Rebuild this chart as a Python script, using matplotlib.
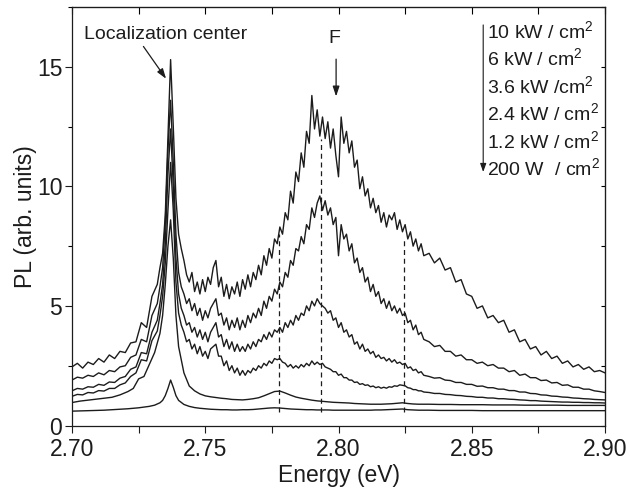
import matplotlib
matplotlib.use("Agg")
import matplotlib.pyplot as plt
from matplotlib.ticker import MultipleLocator

plt.rcParams['font.family'] = ['Liberation Sans', 'DejaVu Sans']
plt.rcParams['mathtext.fontset'] = 'custom'
plt.rcParams['mathtext.rm'] = 'Liberation Sans'
plt.rcParams['mathtext.it'] = 'Liberation Sans'

# ---------------- data ----------------
# energy grid used by the four noisy high-power spectra
energy_noisy = [2.700, 2.702, 2.704, 2.706, 2.708, 2.710, 2.712, 2.714, 2.716, 2.718,
                2.720, 2.722, 2.724, 2.726, 2.728, 2.730, 2.732,
                2.733, 2.734, 2.735, 2.736, 2.737, 2.738, 2.739, 2.740, 2.741,
                2.742, 2.743, 2.744, 2.745, 2.746, 2.747, 2.748, 2.749, 2.750, 2.751,
                2.752, 2.753, 2.754, 2.755, 2.756, 2.757, 2.758, 2.759, 2.760, 2.761,
                2.762, 2.763, 2.764, 2.765, 2.766, 2.767, 2.768, 2.769, 2.770, 2.771,
                2.772, 2.773, 2.774, 2.775, 2.776, 2.777, 2.778, 2.779, 2.780, 2.781,
                2.782, 2.783, 2.784, 2.785, 2.786, 2.787, 2.788, 2.789, 2.790, 2.791,
                2.792, 2.793, 2.794, 2.795, 2.796, 2.797, 2.798, 2.799, 2.800, 2.801,
                2.802, 2.803, 2.804, 2.805, 2.806, 2.807, 2.808, 2.809, 2.810, 2.811,
                2.812, 2.813, 2.814, 2.815, 2.816, 2.817, 2.818, 2.819, 2.820, 2.821,
                2.822, 2.823, 2.824, 2.825, 2.826, 2.827, 2.828, 2.829, 2.830, 2.831,
                2.832,
                2.834, 2.836, 2.838, 2.840, 2.842, 2.844, 2.846, 2.848, 2.850, 2.852,
                2.854, 2.856, 2.858, 2.860, 2.862, 2.864, 2.866, 2.868, 2.870, 2.872,
                2.874, 2.876, 2.878, 2.880, 2.882, 2.884, 2.886, 2.888, 2.890, 2.892,
                2.894, 2.896, 2.898, 2.900]

pl_10kW = [2.45, 2.60, 2.40, 2.65, 2.55, 2.80, 2.65, 2.95, 2.80, 3.10,
           3.05, 3.45, 3.50, 4.30, 4.10, 5.40, 5.90,
           6.6, 7.2, 8.8, 12.0, 15.3, 12.5, 9.5, 8.0, 7.4,
           6.9, 6.3, 6.0, 6.4, 5.6, 6.0, 5.5, 6.1, 5.6, 6.2,
           5.9, 6.6, 6.9, 5.8, 6.2, 5.4, 5.9, 5.3, 5.8, 5.5,
           6.0, 5.4, 6.1, 5.7, 6.3, 5.8, 6.4, 6.1, 6.7, 6.3,
           7.1, 6.7, 7.4, 7.0, 7.8, 7.6, 8.3, 8.0, 8.9, 8.6,
           9.8, 9.3, 10.6, 10.2, 11.4, 10.8, 12.3, 11.8, 13.8, 12.4,
           13.2, 12.1, 12.9, 12.0, 12.7, 11.6, 12.4, 11.3, 10.4, 12.9,
           11.8, 12.3, 11.4, 11.9, 10.8, 11.1, 9.9, 10.4, 9.6, 9.9,
           9.1, 9.5, 8.9, 9.2, 8.5, 8.9, 8.3, 8.8, 8.6, 8.9,
           8.2, 8.6, 8.1, 8.4, 7.8, 8.1, 7.5, 7.8, 7.3, 7.6,
           7.1,
           7.2, 6.8, 7.0, 6.5, 6.6, 6.0, 6.1, 5.5, 5.4, 4.9,
           5.0, 4.5, 4.6, 4.3, 4.4, 3.9, 4.0, 3.5, 3.6, 3.2,
           3.3, 2.95, 3.1, 2.8, 2.9, 2.6, 2.7, 2.45, 2.55, 2.35,
           2.45, 2.25, 2.3, 2.2]

pl_6kW = [1.90, 2.02, 1.98, 2.10, 2.05, 2.20, 2.12, 2.30, 2.25, 2.45,
          2.50, 2.85, 2.95, 3.60, 3.50, 4.60, 5.10,
          5.8, 6.6, 8.5, 11.5, 13.6, 11.0, 8.0, 6.4, 5.8,
          5.5, 5.1, 5.3, 4.8, 5.1, 4.6, 4.9, 4.4, 4.8, 4.5,
          4.9, 5.1, 5.3, 4.6, 4.7, 4.2, 4.5, 4.0, 4.4, 4.1,
          4.5, 4.0, 4.4, 4.1, 4.6, 4.3, 4.7, 4.5, 4.9, 4.6,
          5.2, 4.9, 5.4, 5.2, 5.7, 5.5, 6.0, 5.8, 6.4, 6.2,
          6.9, 6.7, 7.4, 7.3, 7.9, 7.6, 8.4, 8.2, 9.1, 8.7,
          9.3, 9.6, 9.0, 9.4, 8.8, 9.1, 8.4, 8.7, 7.1, 8.4,
          7.8, 8.0, 7.3, 7.6, 6.8, 7.0, 6.4, 6.6, 6.0, 6.2,
          5.6, 5.9, 5.4, 5.6, 5.1, 5.3, 4.9, 5.2, 4.8, 5.0,
          4.7, 4.9, 4.6, 4.7, 4.3, 4.4, 4.0, 4.2, 3.8, 3.9,
          3.6,
          3.5, 3.3, 3.35, 3.1, 3.1, 2.9, 2.95, 2.75, 2.75, 2.6,
          2.65, 2.5, 2.55, 2.4, 2.4, 2.25, 2.3, 2.1, 2.15, 2.0,
          2.0, 1.88, 1.9, 1.78, 1.8, 1.68, 1.7, 1.6, 1.6, 1.52,
          1.52, 1.45, 1.42, 1.38]

pl_3p6kW = [1.45, 1.55, 1.52, 1.62, 1.60, 1.72, 1.68, 1.82, 1.80, 1.98,
            2.05, 2.35, 2.45, 3.05, 3.00, 3.90, 4.40,
            5.1, 5.9, 7.6, 10.5, 12.4, 10.0, 7.0, 5.5, 4.9,
            4.6, 4.2, 4.3, 3.9, 4.1, 3.7, 4.0, 3.6, 3.9, 3.5,
            3.9, 4.1, 4.3, 3.7, 3.8, 3.3, 3.6, 3.2, 3.5, 3.1,
            3.4, 3.1, 3.3, 3.1, 3.4, 3.2, 3.5, 3.3, 3.6, 3.5,
            3.8, 3.6, 3.9, 3.7, 4.0, 3.9, 4.1, 3.9, 4.3, 4.1,
            4.4, 4.2, 4.6, 4.4, 4.7, 4.6, 5.0, 4.8, 5.2, 5.0,
            5.3, 5.1, 5.0, 4.9, 4.7, 4.8, 4.4, 4.5, 4.1, 4.3,
            3.9, 4.0, 3.7, 3.8, 3.4, 3.5, 3.2, 3.4, 3.1, 3.2,
            3.0, 3.1, 2.85, 2.95, 2.8, 2.85, 2.7, 2.8, 2.65, 2.75,
            2.6, 2.65, 2.55, 2.6, 2.4, 2.45, 2.3, 2.35, 2.2, 2.25,
            2.1,
            2.05, 1.98, 2.0, 1.9, 1.88, 1.8, 1.8, 1.72, 1.72, 1.64,
            1.65, 1.58, 1.58, 1.52, 1.52, 1.46, 1.46, 1.40, 1.40, 1.34,
            1.33, 1.28, 1.27, 1.23, 1.22, 1.19, 1.18, 1.15, 1.14, 1.12,
            1.11, 1.09, 1.08, 1.07]

pl_2p4kW = [1.22, 1.30, 1.28, 1.38, 1.36, 1.46, 1.44, 1.55, 1.55, 1.70,
            1.78, 2.05, 2.20, 2.75, 2.70, 3.55, 3.95,
            4.6, 5.4, 6.8, 9.0, 11.0, 9.0, 6.0, 4.7, 4.2,
            3.9, 3.5, 3.6, 3.2, 3.4, 3.0, 3.3, 2.9, 3.1, 2.8,
            3.2, 3.3, 3.4, 2.9, 2.9, 2.5, 2.7, 2.3, 2.5, 2.2,
            2.4, 2.1, 2.3, 2.1, 2.3, 2.2, 2.4, 2.3, 2.5, 2.4,
            2.6, 2.5, 2.7, 2.6, 2.8, 2.75, 2.8, 2.65, 2.6, 2.45,
            2.55, 2.4, 2.5, 2.4, 2.55, 2.45, 2.6, 2.5, 2.7, 2.55,
            2.65, 2.55, 2.6, 2.45, 2.4, 2.35, 2.25, 2.25, 2.1, 2.15,
            2.0, 2.0, 1.9, 1.9, 1.8, 1.82, 1.72, 1.75, 1.68, 1.7,
            1.62, 1.65, 1.58, 1.62, 1.56, 1.6, 1.56, 1.62, 1.6, 1.66,
            1.64, 1.7, 1.68, 1.66, 1.58, 1.56, 1.5, 1.5, 1.45, 1.45,
            1.4,
            1.38, 1.34, 1.34, 1.30, 1.29, 1.26, 1.25, 1.22, 1.21, 1.18,
            1.18, 1.15, 1.15, 1.12, 1.12, 1.10, 1.09, 1.07, 1.06, 1.04,
            1.04, 1.02, 1.01, 1.00, 0.99, 0.98, 0.98, 0.97, 0.97, 0.96,
            0.96, 0.95, 0.95, 0.94]

# energy grid used by the two smooth low-power spectra
energy_smooth = [2.700, 2.703, 2.706, 2.709, 2.712, 2.715, 2.718, 2.721, 2.723, 2.725,
                 2.727, 2.729, 2.731, 2.733,
                 2.734, 2.735, 2.736, 2.737, 2.738, 2.739, 2.740, 2.742,
                 2.744, 2.746, 2.748, 2.750, 2.752, 2.754, 2.756, 2.758, 2.760, 2.762,
                 2.764, 2.766, 2.768, 2.770, 2.772, 2.774, 2.776, 2.778, 2.780, 2.782,
                 2.784, 2.786, 2.788, 2.790, 2.792, 2.794, 2.796, 2.798, 2.800, 2.802,
                 2.804, 2.806, 2.808, 2.810, 2.812, 2.814, 2.816, 2.818, 2.820, 2.822,
                 2.824, 2.826, 2.828, 2.830,
                 2.834, 2.838, 2.842, 2.846, 2.850, 2.854, 2.858, 2.862, 2.866, 2.870,
                 2.874, 2.878, 2.882, 2.886, 2.890, 2.894, 2.898, 2.900]

pl_1p2kW = [0.96, 1.02, 1.06, 1.10, 1.14, 1.18, 1.28, 1.42, 1.55, 1.95,
            2.05, 2.55, 3.05, 3.85,
            4.6, 5.9, 7.5, 8.6, 7.0, 4.6, 3.3, 2.2,
            1.65, 1.45, 1.32, 1.24, 1.20, 1.17, 1.14, 1.12, 1.09, 1.08,
            1.07, 1.09, 1.12, 1.16, 1.24, 1.33, 1.42, 1.44, 1.36, 1.27,
            1.19, 1.14, 1.10, 1.06, 1.03, 1.01, 0.99, 0.97, 0.96, 0.95,
            0.94, 0.92, 0.91, 0.90, 0.89, 0.89, 0.89, 0.90, 0.91, 0.93,
            0.95, 0.92, 0.90, 0.89,
            0.89, 0.88, 0.88, 0.87, 0.87, 0.87, 0.86, 0.86, 0.86, 0.85,
            0.85, 0.85, 0.85, 0.84, 0.84, 0.84, 0.84, 0.84]

pl_200W = [0.60, 0.61, 0.62, 0.63, 0.64, 0.66, 0.68, 0.70, 0.72, 0.74,
           0.77, 0.80, 0.85, 0.95,
           1.05, 1.25, 1.55, 1.90, 1.60, 1.25, 1.05, 0.88,
           0.80, 0.75, 0.72, 0.70, 0.68, 0.67, 0.66, 0.66, 0.65, 0.65,
           0.66, 0.66, 0.67, 0.69, 0.71, 0.73, 0.74, 0.73, 0.71, 0.69,
           0.68, 0.67, 0.66, 0.66, 0.65, 0.65, 0.65, 0.64, 0.64, 0.64,
           0.64, 0.64, 0.64, 0.64, 0.64, 0.65, 0.65, 0.66, 0.67, 0.68,
           0.69, 0.66, 0.65, 0.64,
           0.64, 0.63, 0.63, 0.63, 0.63, 0.62, 0.62, 0.62, 0.62, 0.62,
           0.62, 0.62, 0.62, 0.62, 0.62, 0.62, 0.62, 0.62]

power_labels = ["10 kW / cm$^2$", "6 kW / cm$^2$", "3.6 kW /cm$^2$",
                "2.4 kW / cm$^2$", "1.2 kW / cm$^2$", "200 W  / cm$^2$"]

dash_x = [2.7775, 2.7935, 2.8245]
dash_top = [8.0, 12.0, 7.8]
dash_bottom = 0.55

xticks = [2.70, 2.75, 2.80, 2.85, 2.90]
xtick_labels = ["2.70", "2.75", "2.80", "2.85", "2.90"]
yticks = [0, 5, 10, 15]

# ---------------- figure ----------------
fig = plt.figure(figsize=(6.3, 4.94), dpi=100)
ax = fig.add_axes([72 / 630, 1 - 425.5 / 494, (605 - 72) / 630, (425.5 - 7) / 494])

col = '#1c1c1c'
for s in [pl_10kW, pl_6kW, pl_3p6kW, pl_2p4kW]:
    assert len(s) == len(energy_noisy), len(s)
    ax.plot(energy_noisy, s, color=col, lw=1.0)
for s in [pl_1p2kW, pl_200W]:
    assert len(s) == len(energy_smooth), len(s)
    ax.plot(energy_smooth, s, color=col, lw=1.0)

for x, t in zip(dash_x, dash_top):
    ax.plot([x, x], [dash_bottom, t], color=col, lw=0.9, ls=(0, (4, 3)))

ax.set_xlim(2.70, 2.90)
ax.set_ylim(0, 17.5)

ax.set_xticks(xticks)
ax.set_xticklabels(xtick_labels)
ax.xaxis.set_minor_locator(MultipleLocator(0.025))
ax.set_yticks(yticks)
ax.yaxis.set_minor_locator(MultipleLocator(2.5))

ax.tick_params(axis='x', which='both', direction='out', length=5, width=0.8,
               labelsize=16.5, pad=4, colors=col)
ax.tick_params(axis='y', which='major', direction='out', length=5, width=0.8,
               labelsize=16.5, pad=2, colors=col)
ax.tick_params(axis='y', which='minor', direction='out', length=3, width=0.8)

top = ax.secondary_xaxis('top')
top.xaxis.set_major_locator(MultipleLocator(0.025))
top.tick_params(axis='x', direction='in', length=5, width=0.8, labeltop=False)

right = ax.secondary_yaxis('right')
right.yaxis.set_major_locator(MultipleLocator(2.5))
right.tick_params(axis='y', direction='in', length=3, width=0.8, labelright=False)

for sp in list(ax.spines.values()):
    sp.set_linewidth(0.9)
    sp.set_color(col)

ax.set_xlabel("Energy (eV)", fontsize=16.5, labelpad=2, color=col)
ax.set_ylabel("PL (arb. units)", fontsize=16.5, labelpad=0, color=col)

# annotations
ax.text(2.7353, 16.34, "Localization center", fontsize=14, ha='center', va='center', color=col)
ax.annotate("", xy=(2.7353, 14.5), xytext=(2.7268, 15.85),
            arrowprops=dict(arrowstyle='-|>,head_length=0.6,head_width=0.2', color=col, lw=0.9,
                            shrinkA=0, shrinkB=0))
ax.text(2.7984, 16.2, "F", fontsize=14, ha='center', va='center', color=col)
ax.annotate("", xy=(2.7991, 13.76), xytext=(2.7991, 15.32),
            arrowprops=dict(arrowstyle='-|>,head_length=0.6,head_width=0.2', color=col, lw=0.9,
                            shrinkA=0, shrinkB=0))

# power legend
label_y = [16.5, 15.35, 14.2, 13.05, 11.9, 10.75]
for lbl, yy in zip(power_labels, label_y):
    ax.text(2.8557, yy, lbl, fontsize=14, ha='left', va='center', color=col)
ax.annotate("", xy=(2.8543, 10.6), xytext=(2.8543, 16.75),
            arrowprops=dict(arrowstyle='-|>,head_length=0.5,head_width=0.18', color=col, lw=0.8,
                            shrinkA=0, shrinkB=0))

fig.savefig("out.png", dpi=100)
